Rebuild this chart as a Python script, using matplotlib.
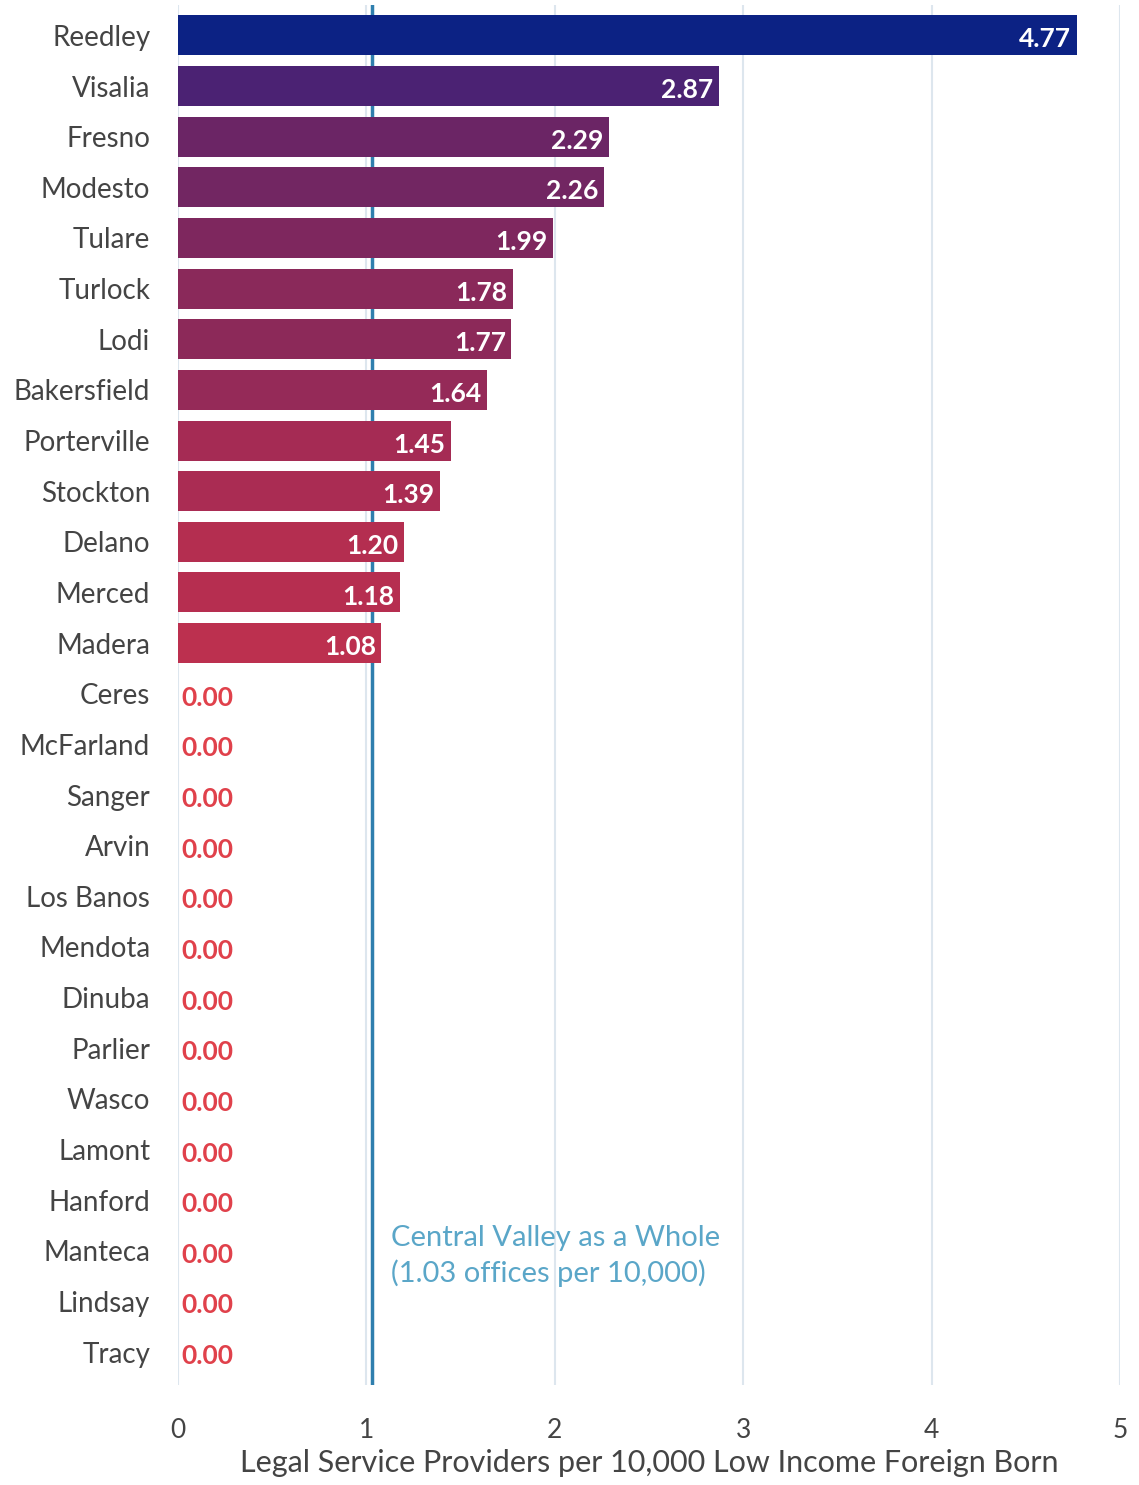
import matplotlib
matplotlib.use("Agg")
import matplotlib.pyplot as plt

cities = ["Reedley", "Visalia", "Fresno", "Modesto", "Tulare", "Turlock", "Lodi",
          "Bakersfield", "Porterville", "Stockton", "Delano", "Merced", "Madera",
          "Ceres", "McFarland", "Sanger", "Arvin", "Los Banos", "Mendota", "Dinuba",
          "Parlier", "Wasco", "Lamont", "Hanford", "Manteca", "Lindsay", "Tracy"]
values = [4.77, 2.87, 2.29, 2.26, 1.99, 1.78, 1.77, 1.64, 1.45, 1.39, 1.20, 1.18, 1.08,
          0, 0, 0, 0, 0, 0, 0, 0, 0, 0, 0, 0, 0, 0]
bar_colors = ["#0c2284", "#4b2273", "#6b2565", "#722662", "#7e275e", "#8a295a", "#8c2959",
              "#952a58", "#a52b54", "#aa2c53", "#b42e50", "#b62e50", "#bc304f"]
xticks = [0, 1, 2, 3, 4, 5]
cv_value = 1.03
xlabel = "Legal Service Providers per 10,000 Low Income Foreign Born"
annot = "Central Valley as a Whole\n(1.03 offices per 10,000)"

plt.rcParams['font.family'] = ['Lato', 'DejaVu Sans']

fig = plt.figure(figsize=(11.39, 14.85), dpi=100)
ax = fig.add_axes([178/1139, 1 - 1385/1485, (1120-178)/1139, (1385-5)/1485])

n = len(cities)
ys = list(range(n))
for i, (c, v) in enumerate(zip(cities, values)):
    if v > 0:
        ax.barh(i, v, height=0.79, color=bar_colors[i], zorder=3)
        ax.text(v - 0.03, i + 0.08, f"{v:.2f}", color="white", fontsize=19,
                fontweight="bold", ha="right", va="center", zorder=4)
    else:
        ax.text(0.02, i + 0.08, f"{v:.2f}", color="#e0414b", fontsize=19,
                fontweight="bold", ha="left", va="center", zorder=4)

ax.set_ylim(n - 0.35, -0.6)
ax.set_xlim(0, 5)
ax.set_yticks(ys)
ax.set_yticklabels(cities, fontsize=20, color="#444444")
ax.set_xticks(xticks)
ax.set_xticklabels([str(t) for t in xticks], fontsize=19, color="#444444")
ax.tick_params(axis='both', length=0)
ax.tick_params(axis='y', pad=20)
ax.tick_params(axis='x', pad=24)
for sp in ax.spines.values():
    sp.set_visible(False)
ax.xaxis.grid(True, color="#dde6ee", linewidth=1.5, zorder=0)
ax.set_axisbelow(True)

ax.axvline(cv_value, color="#2f7fae", linewidth=2.5, zorder=2)
ax.text(cv_value + 0.1, 24.1, annot, color="#5aa6c8", fontsize=21,
        ha="left", va="center", linespacing=1.4, zorder=4)

ax.set_xlabel(xlabel, fontsize=22, color="#444444", labelpad=4)

fig.savefig("out.png", dpi=100, facecolor="white")
